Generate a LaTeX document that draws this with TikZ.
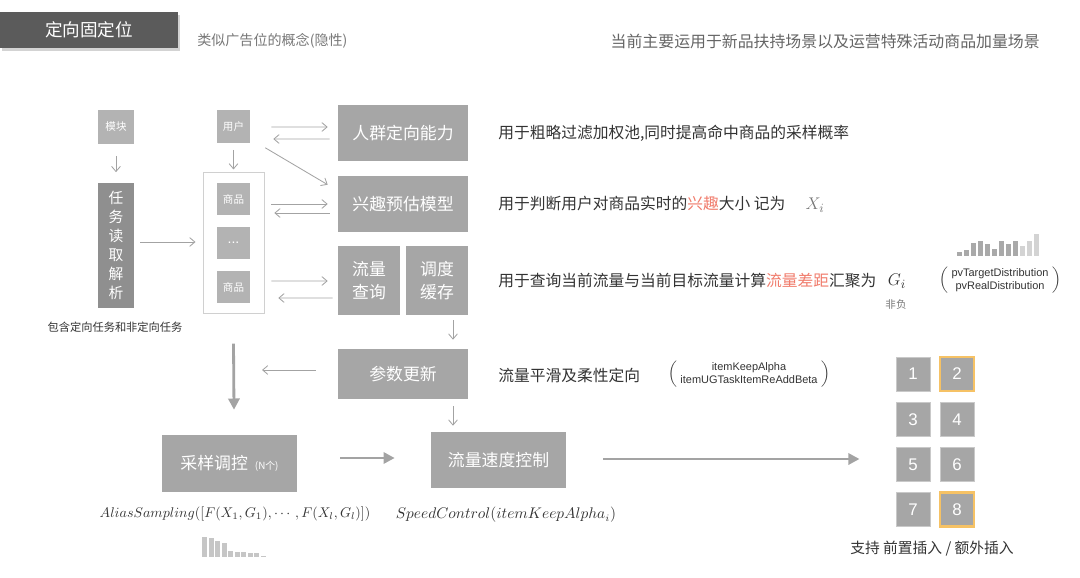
\documentclass[tikz,border=0pt]{standalone}
\usepackage{amsmath}
\usepackage[no-math]{fontspec}
\newfontfamily\cjk{Noto Sans CJK SC}
\newfontfamily\hv{Liberation Sans}
\usepackage{tikz}
\usetikzlibrary{arrows.meta,positioning,shadows}
\definecolor{titlegray}{HTML}{5B5B5B}
\definecolor{boxgray}{HTML}{A6A6A6}
\definecolor{taskgray}{HTML}{8F8F8F}
\definecolor{smallgray}{HTML}{B3B3B3}
\definecolor{poolline}{HTML}{D0D0D0}
\definecolor{arrowgray}{HTML}{A3A3A3}
\definecolor{textdark}{HTML}{333333}
\definecolor{notegray}{HTML}{777777}
\definecolor{hotred}{HTML}{F07B6B}
\definecolor{hlorange}{HTML}{F6C265}
\definecolor{numline}{HTML}{C9C9C9}
\definecolor{bardark}{HTML}{A9A9A9}
\definecolor{barlight}{HTML}{D3D3D3}
\tikzset{
  titlebox/.style={fill=titlegray, text=white, minimum width=4.45cm, minimum height=0.9cm, inner sep=0pt, font=\cjk\fontsize{12.5}{14}\selectfont, drop shadow={shadow xshift=0.4mm, shadow yshift=-0.7mm, opacity=0.35}},
  gbox/.style={fill=boxgray, text=white, inner sep=0pt, align=center, font=\cjk\fontsize{12}{16}\selectfont},
  sbox/.style={fill=smallgray, text=white, inner sep=0pt, minimum width=0.825cm, minimum height=0.8cm, font=\cjk\fontsize{7.5}{9}\selectfont},
  num/.style={fill=boxgray, draw=numline, line width=.7pt, text=white, minimum size=0.85cm, inner sep=0pt, font=\hv\fontsize{12}{14}\selectfont},
  numhl/.style={num, draw=hlorange, line width=1.6pt},
  ar/.style={-{Straight Barb[length=1.3mm,width=2.2mm]}, line width=.6pt, draw=arrowgray},
  bigar/.style={-{Triangle[length=2.8mm,width=2.8mm]}, line width=2pt, draw=arrowgray},
  desc/.style={anchor=west, inner sep=0pt, text=textdark, font=\cjk\fontsize{11.2}{13}\selectfont},
  note/.style={inner sep=0pt, text=notegray, font=\cjk\fontsize{10}{12}\selectfont},
  eng/.style={inner sep=0pt, text=textdark, font=\hv\fontsize{7.8}{9.4}\selectfont},
  hot/.style={text=hotred},
}

\begin{document}
\begin{tikzpicture}[x=0.025cm, y=-0.025cm]
    \useasboundingbox (0,0) rectangle (1080,578);

    \node[titlebox] (title) at (89,30) {定向固定位};
    \node[note, anchor=west] (hint) at (197,41) {类似广告位的概念(隐性)};
    \node[note, anchor=east, text=notegray!85!black, font=\cjk\fontsize{11.3}{13}\selectfont] (scene) at (1040,41) {当前主要运用于新品扶持场景以及运营特殊活动商品加量场景};

    % left column
    \node[sbox, minimum width=0.9cm, minimum height=0.825cm] (mod) at (116,127) {模块};
    \node[gbox, fill=taskgray, minimum width=0.9cm, minimum height=3.1cm, font=\cjk\fontsize{10.5}{13.5}\selectfont] (task) at (116,245.5) {任\\务\\读\\取\\解\\析};
    \node[inner sep=0pt, text=textdark, font=\cjk\fontsize{8}{10}\selectfont] (tasknote) at (115,327) {包含定向任务和非定向任务};

    \node[sbox] (user) at (233.5,126.5) {用户};
    \node[draw=poolline, line width=.7pt, minimum width=1.525cm, minimum height=3.5cm, inner sep=0pt] (pool) at (233.5,243) {};
    \node[sbox] (g1) at (233.5,199) {商品};
    \node[sbox, font=\hv\fontsize{10}{12}\selectfont] (gdots) at (233.5,243) {...};
    \node[sbox] (g2) at (233.5,287) {商品};

    % middle column
    \node[gbox, minimum width=3.25cm, minimum height=1.4cm] (crowd) at (403,133) {人群定向能力};
    \node[gbox, minimum width=3.25cm, minimum height=1.4cm] (interest) at (403,204) {兴趣预估模型};
    \node[gbox, minimum width=1.55cm, minimum height=1.725cm] (flowq) at (369,280.5) {流量\\查询};
    \node[gbox, minimum width=1.55cm, minimum height=1.725cm] (sched) at (437,280.5) {调度\\缓存};
    \node[gbox, minimum width=3.25cm, minimum height=1.25cm] (param) at (403,374) {参数更新};
    \node[gbox, minimum width=3.375cm, minimum height=1.425cm] (sample) at (229.5,463.5) {采样调控\hspace{5pt}{\fontsize{7}{8}\selectfont(N个)}};
    \node[gbox, minimum width=3.375cm, minimum height=1.4cm] (speed) at (498.5,460) {流量速度控制};

    % descriptions
    \node[desc] (d1) at (498,133) {用于粗略过滤加权池,同时提高命中商品的采样概率};
    \node[desc] (d2) at (498,204) {用于判断用户对商品实时的{\color{hotred}兴趣}大小 记为};
    \node[inner sep=0pt, text=notegray, font=\fontsize{13}{15}\selectfont] (xi) at (815,205) {$X_i$};
    \node[desc] (d3) at (498,281) {用于查询当前流量与当前目标流量计算{\color{hotred}流量差距}汇聚为};
    \node[inner sep=0pt, text=textdark, font=\fontsize{13}{15}\selectfont] (gi) at (897,281) {$G_i$};
    \node[inner sep=0pt, text=notegray, font=\cjk\fontsize{7.5}{9}\selectfont] (nonneg) at (896,304) {非负};
    \node[eng] (dist) at (1000,280) {$\left(\;\begin{tabular}{@{}c@{}}pvTargetDistribution\\pvRealDistribution\end{tabular}\;\right)$};
    \node[desc] (d4) at (498,375) {流量平滑及柔性定向};
    \node[eng] (alpha) at (749,374) {$\left(\;\begin{tabular}{@{}c@{}}itemKeepAlpha\\itemUGTaskItemReAddBeta\end{tabular}\;\right)$};
    \node[inner sep=0pt, text=textdark, font=\fontsize{9.6}{11}\selectfont] (alias) at (235,514) {$AliasSampling([F(X_1,G_1),\cdots,F(X_l,G_l)])$};
    \node[inner sep=0pt, text=textdark, font=\fontsize{10.6}{12}\selectfont] (speedf) at (506,515) {$SpeedControl(itemKeepAlpha_i)$};

    % slots
    \node[num] (n1) at (913,374) {1};
    \node[numhl] (n2) at (957,374) {2};
    \node[num] (n3) at (913,419.5) {3};
    \node[num] (n4) at (957,419.5) {4};
    \node[num] (n5) at (913,464.5) {5};
    \node[num] (n6) at (957,464.5) {6};
    \node[num] (n7) at (913,509.5) {7};
    \node[numhl] (n8) at (957,509.5) {8};
    \node[inner sep=0pt, text=textdark, font=\cjk\fontsize{10.5}{12}\selectfont] (insert) at (932,549) {支持 前置插入 / 额外插入};

    % small bar charts
    \foreach \h/\c [count=\i] in {4/bardark,6/bardark,13/bardark,15/bardark,12/bardark,7/bardark,15/bardark,12/bardark,15/bardark,10/barlight,15/barlight,22/barlight}
      \fill[\c] ({950+7*\i},256) rectangle +(5,-\h);
    \foreach \h [count=\i] in {20,19,16,14,6,5,5,4,4,1}
      \fill[barlight!85!gray] ({195.5+6.5*\i},557) rectangle +(5,-\h);

    % connectors
    \draw[ar] ([shift={(0,12)}]mod.south) -- ([shift={(0,-11)}]task.north);
    \draw[ar] ([shift={(0,7)}]user.south) -- ([shift={(0,-3)}]pool.north);
    \draw[ar] ([shift={(6,-3.5)}]task.east) -- ([shift={(-7,-1)}]pool.west);
    \draw[ar] ([shift={(21,0.5)}]user.east) -- ([shift={(-10,-6)}]crowd.west);
    \draw[ar] ([shift={(-8,6)}]crowd.west) -- ([shift={(23,12.5)}]user.east);
    \draw[ar] ([shift={(15,5)}]user.south east) -- ([shift={(-10,9)}]interest.north west);
    \draw[ar] ([shift={(21,5)}]g1.east) -- ([shift={(-10,0)}]interest.west);
    \draw[ar] ([shift={(-8,9)}]interest.west) -- ([shift={(24,14)}]g1.east);
    \draw[ar] ([shift={(21,-6)}]g2.east) -- ([shift={(-10,0.5)}]flowq.west);
    \draw[ar] ([shift={(-5,17.5)}]flowq.west) -- ([shift={(28,11)}]g2.east);
    \draw[ar] ([shift={(16,5)}]sched.south) -- ([shift={(50,-9)}]param.north);
    \draw[ar] ([shift={(50,7)}]param.south) -- ([shift={(-45.5,-6)}]speed.north);
    \coordinate (back) at (262,370);
    \draw[ar] ([shift={(-22,-4)}]param.west) -- (back);
    \draw[bigar] ([shift={(0,30)}]pool.south) -- ([shift={(4.5,-25)}]sample.north);
    \draw[bigar] ([shift={(43,-5.5)}]sample.east) -- ([shift={(-36,-2)}]speed.west);
    \draw[bigar] ([shift={(37,-1)}]speed.east) -- ([shift={(-36,-5.5)}]n5.west);
  \end{tikzpicture}
\end{document}
